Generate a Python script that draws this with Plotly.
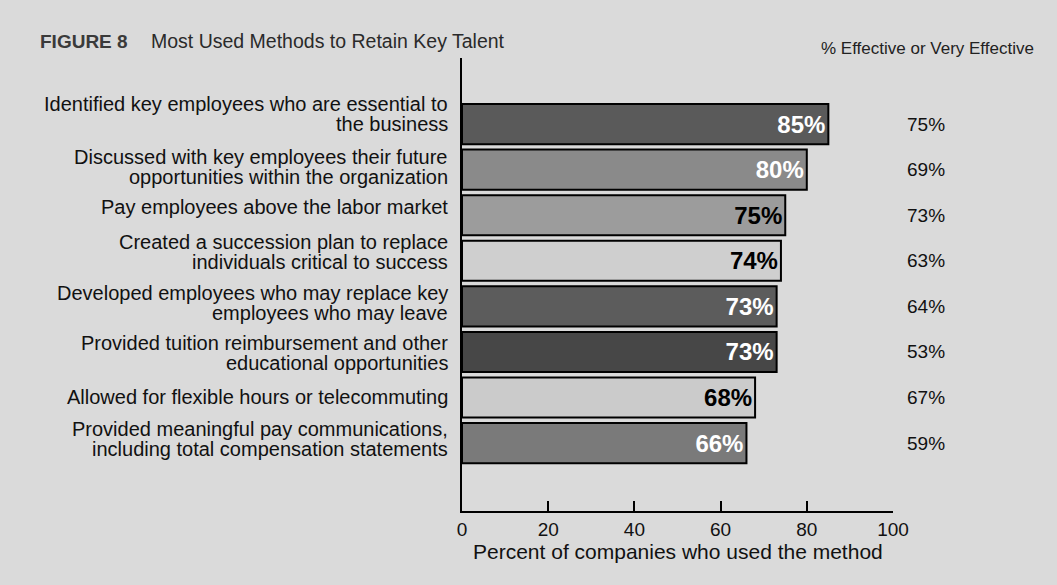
import plotly.graph_objects as go

# Retention methods, top to bottom
methods = [
    "Identified key employees who are essential to<br>the business",
    "Discussed with key employees their future<br>opportunities within the organization",
    "Pay employees above the labor market",
    "Created a succession plan to replace<br>individuals critical to success",
    "Developed employees who may replace key<br>employees who may leave",
    "Provided tuition reimbursement and other<br>educational opportunities",
    "Allowed for flexible hours or telecommuting",
    "Provided meaningful pay communications,<br>including total compensation statements",
]
pct_used = [85, 80, 75, 74, 73, 73, 68, 66]
pct_effective = [75, 69, 73, 63, 64, 53, 67, 59]
x_ticks = [0, 20, 40, 60, 80, 100]

# styling
bar_fills = ["#5a5a5a", "#8a8a8a", "#9c9c9c", "#cfcfcf", "#5c5c5c", "#474747", "#cbcbcb", "#7a7a7a"]
label_colors = ["white", "white", "black", "black", "white", "white", "black", "white"]
label_nudge_px = [10, 3, 8, 9, 3, -1, 1, 4]   # upward shift of each category label
LINE_PX = 20

BG = "#dadada"
FONT = "Liberation Sans, Arial, sans-serif"
INK = "#111111"

W, H = 1057, 585
plot_l, plot_r, plot_t, plot_b = 462, 893, 58, 511


def px_to_paper_x(px):
    return (px - plot_l) / (plot_r - plot_l)


def px_to_paper_y(py):
    return (plot_b - py) / (plot_b - plot_t)


pos = list(range(len(methods)))

fig = go.Figure()
fig.add_trace(go.Bar(
    x=pct_used,
    y=pos,
    orientation="h",
    marker=dict(color=bar_fills, line=dict(color="black", width=2)),
    width=0.88,
    text=[f"<b>{v}%</b>" for v in pct_used],
    textposition="inside",
    insidetextanchor="end",
    textfont=dict(family=FONT, size=24, color=label_colors),
    cliponaxis=False,
    hoverinfo="skip",
))

annotations = []
# Category labels to the left of the axis, one annotation per line
for i, m in enumerate(methods):
    lines = m.split("<br>")
    n = len(lines)
    for k, line in enumerate(lines):
        shift = ((n - 1) / 2 - k) * LINE_PX + label_nudge_px[i]
        annotations.append(dict(
            x=px_to_paper_x(450), xref="paper", y=i, yref="y",
            text=line, showarrow=False, xanchor="right", yanchor="middle",
            yshift=shift, font=dict(family=FONT, size=20, color=INK),
        ))
# Effectiveness column
for i, v in enumerate(pct_effective):
    annotations.append(dict(
        x=px_to_paper_x(926), xref="paper", y=i, yref="y",
        text=f"{v}%", showarrow=False, xanchor="center", yanchor="middle",
        font=dict(family=FONT, size=19, color=INK),
    ))
annotations.append(dict(
    x=px_to_paper_x(927), xref="paper", y=px_to_paper_y(49), yref="paper",
    text="% Effective or Very Effective", showarrow=False,
    xanchor="center", yanchor="middle",
    font=dict(family=FONT, size=17, color="#222222"),
))
annotations.append(dict(
    x=px_to_paper_x(38), xref="paper", y=px_to_paper_y(41), yref="paper",
    text="<b>FIGURE 8</b>", showarrow=False, xanchor="left", yanchor="middle",
    font=dict(family=FONT, size=19, color="#3a3a3a"),
))
annotations.append(dict(
    x=px_to_paper_x(149), xref="paper", y=px_to_paper_y(41), yref="paper",
    text="Most Used Methods to Retain Key Talent", showarrow=False,
    xanchor="left", yanchor="middle",
    font=dict(family=FONT, size=19.5, color="#2a2a2a"),
))
annotations.append(dict(
    x=px_to_paper_x(678), xref="paper", y=px_to_paper_y(551), yref="paper",
    text="Percent of companies who used the method", showarrow=False,
    xanchor="center", yanchor="middle",
    font=dict(family=FONT, size=21, color=INK),
))

fig.update_layout(
    width=W, height=H,
    margin=dict(l=plot_l, r=W - plot_r, t=plot_t, b=H - plot_b),
    paper_bgcolor=BG, plot_bgcolor=BG,
    showlegend=False,
    annotations=annotations,
    xaxis=dict(
        range=[0, 100], tickvals=x_ticks,
        ticks="inside", ticklen=10, tickwidth=2, tickcolor="black",
        showline=True, linecolor="black", linewidth=2, showgrid=False,
        zeroline=False,
        tickfont=dict(family=FONT, size=19, color=INK),
    ),
    yaxis=dict(
        range=[8.49, -1.45], showticklabels=False, ticks="",
        showline=True, linecolor="black", linewidth=2, showgrid=False,
        zeroline=False,
    ),
)

fig.write_html("out.html")
